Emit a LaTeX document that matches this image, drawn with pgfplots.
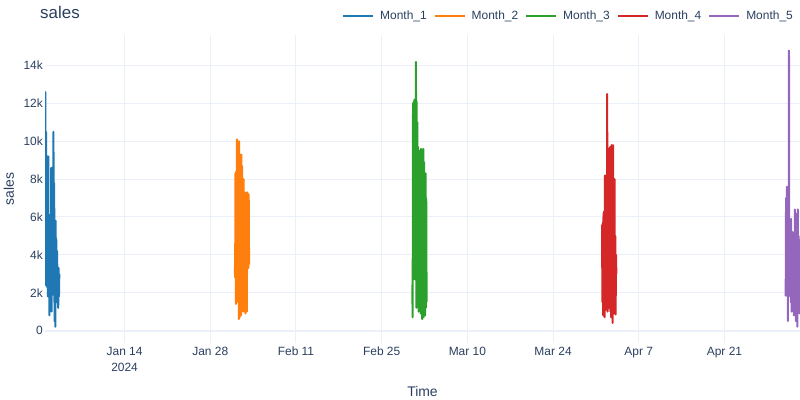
\documentclass[border=0pt]{standalone}
\usepackage{fontspec}
\setmainfont{Liberation Sans}
\usepackage{pgfplots}
\usepackage{pgfplotstable}
\pgfplotsset{compat=1.18}
\definecolor{txt}{HTML}{2A3F5F}
\definecolor{gridc}{HTML}{EBF0F8}
\definecolor{c1}{HTML}{1F77B4}
\definecolor{c2}{HTML}{FF7F0E}
\definecolor{c3}{HTML}{2CA02C}
\definecolor{c4}{HTML}{D62728}
\definecolor{c5}{HTML}{9467BD}
% off = offset in days from the first day of each month
\pgfplotstableread{
off m1 m2 m3 m4 m5
0.00 4000 3300 2400 5600 1800
0.06 12600 2800 700 1500 7000
0.12 2400 8300 12000 5700 1900
0.18 10500 1400 3000 800 7600
0.24 3000 8400 12100 6200 2500
0.30 7200 2000 3100 1200 6000
0.36 2300 10100 12200 6300 500
0.42 9200 2000 2700 700 7000
0.48 1800 10000 12000 8200 3000
0.54 9200 1500 3200 1800 14800
0.60 2600 9000 14200 8000 2000
0.66 5200 600 1200 1100 5500
0.72 800 10000 12100 8200 1800
0.78 6100 700 2000 1500 5800
0.84 1000 9300 11000 12500 1500
0.90 4500 2200 1400 1000 5900
0.96 2000 8700 9700 9400 1000
1.02 8600 800 1000 2200 5000
1.08 1000 9300 9400 9600 1100
1.14 8600 1200 1500 1200 5200
1.20 2100 8700 9500 9600 2000
1.26 6000 2800 1300 1800 4800
1.32 1900 7000 9200 9700 800
1.38 10500 1000 900 1000 5000
1.44 3000 8000 9600 9500 1400
1.50 7800 1600 1500 700 6400
1.56 500 7300 9300 9800 1000
1.62 5800 1100 600 1300 6200
1.68 200 6800 9000 9000 500
1.74 5800 900 1100 400 5800
1.80 2500 7300 9600 9800 2000
1.86 4800 2500 700 1600 4900
1.92 1500 6500 8900 7500 200
1.98 4200 1000 1000 900 6400
2.04 2200 7300 8300 8000 1400
2.10 3300 3500 800 1200 5000
2.16 1200 5500 8300 5000 1200
2.22 3300 3300 1200 850 4800
2.28 1800 7200 7000 4000 900
2.34 3000 3500 1500 3000 3800
}\salesdata
\begin{document}
\begin{tikzpicture}
\path[use as bounding box] (0,0) rectangle (800bp,400bp);
\begin{axis}[
  at={(45bp,57bp)}, anchor=south west,
  width=755bp, height=308bp, scale only axis,
  xmin=0, xmax=123.34, ymin=-660, ymax=15620,
  scaled y ticks=false, scaled x ticks=false,
  axis line style={draw=none},
  major tick length=0pt,
  grid=major,
  grid style={color=gridc, line width=1bp},
  xtick={13,27,41,55,69,83,97,111},
  xticklabels={{Jan 14\\2024},Jan 28,Feb 11,Feb 25,Mar 10,Mar 24,Apr 7,Apr 21},
  ytick={2000,4000,6000,8000,10000,12000,14000},
  yticklabels={2k,4k,6k,8k,10k,12k,14k},
  extra y ticks={0}, extra y tick labels={0},
  extra y tick style={grid style={color=gridc, line width=2bp}},
  /pgf/number format/assume math mode=true,
  ticklabel style={font=\fontsize{12}{16}\selectfont, text=txt},
  xticklabel style={inner sep=0pt, yshift=-4bp, align=center, anchor=north},
  yticklabel style={inner sep=0pt, xshift=-2bp, anchor=east},
  xlabel={Time},
  ylabel={sales},
  label style={font=\fontsize{14}{16}\selectfont, text=txt},
  xlabel style={at={(axis description cs:0.5,-0.159)}, anchor=center},
  ylabel style={at={(axis description cs:-0.0477,0.5)}, anchor=center},
  title={sales},
  title style={at={(axis description cs:0,1)}, anchor=base west, inner sep=0pt, xshift=-5bp, yshift=11bp, font=\fontsize{17}{20}\selectfont, text=txt},
  legend columns=5,
  legend image code/.code={\draw[#1, line width=2bp] (0bp,0bp) -- (30bp,0bp);},
  legend style={at={(axis description cs:1,1)}, anchor=east, xshift=-7bp, yshift=19bp,
    draw=none, fill=none, inner sep=0pt, font=\fontsize{12}{14}\selectfont, text=txt,
    nodes={inner sep=0pt},
    /tikz/every odd column/.append style={column sep=6bp},
    /tikz/every even column/.append style={column sep=7bp}},
  every axis plot/.append style={line width=2bp, line join=round, mark=none},
]
\addplot[c1] table[x expr=\thisrow{off}+0, y=m1] {\salesdata};
\addlegendentry{Month\_1}
\addplot[c2] table[x expr=\thisrow{off}+31, y=m2] {\salesdata};
\addlegendentry{Month\_2}
\addplot[c3] table[x expr=\thisrow{off}+60, y=m3] {\salesdata};
\addlegendentry{Month\_3}
\addplot[c4] table[x expr=\thisrow{off}+91, y=m4] {\salesdata};
\addlegendentry{Month\_4}
\addplot[c5] table[x expr=\thisrow{off}+121, y=m5] {\salesdata};
\addlegendentry{Month\_5}
\end{axis}
\end{tikzpicture}
\end{document}
